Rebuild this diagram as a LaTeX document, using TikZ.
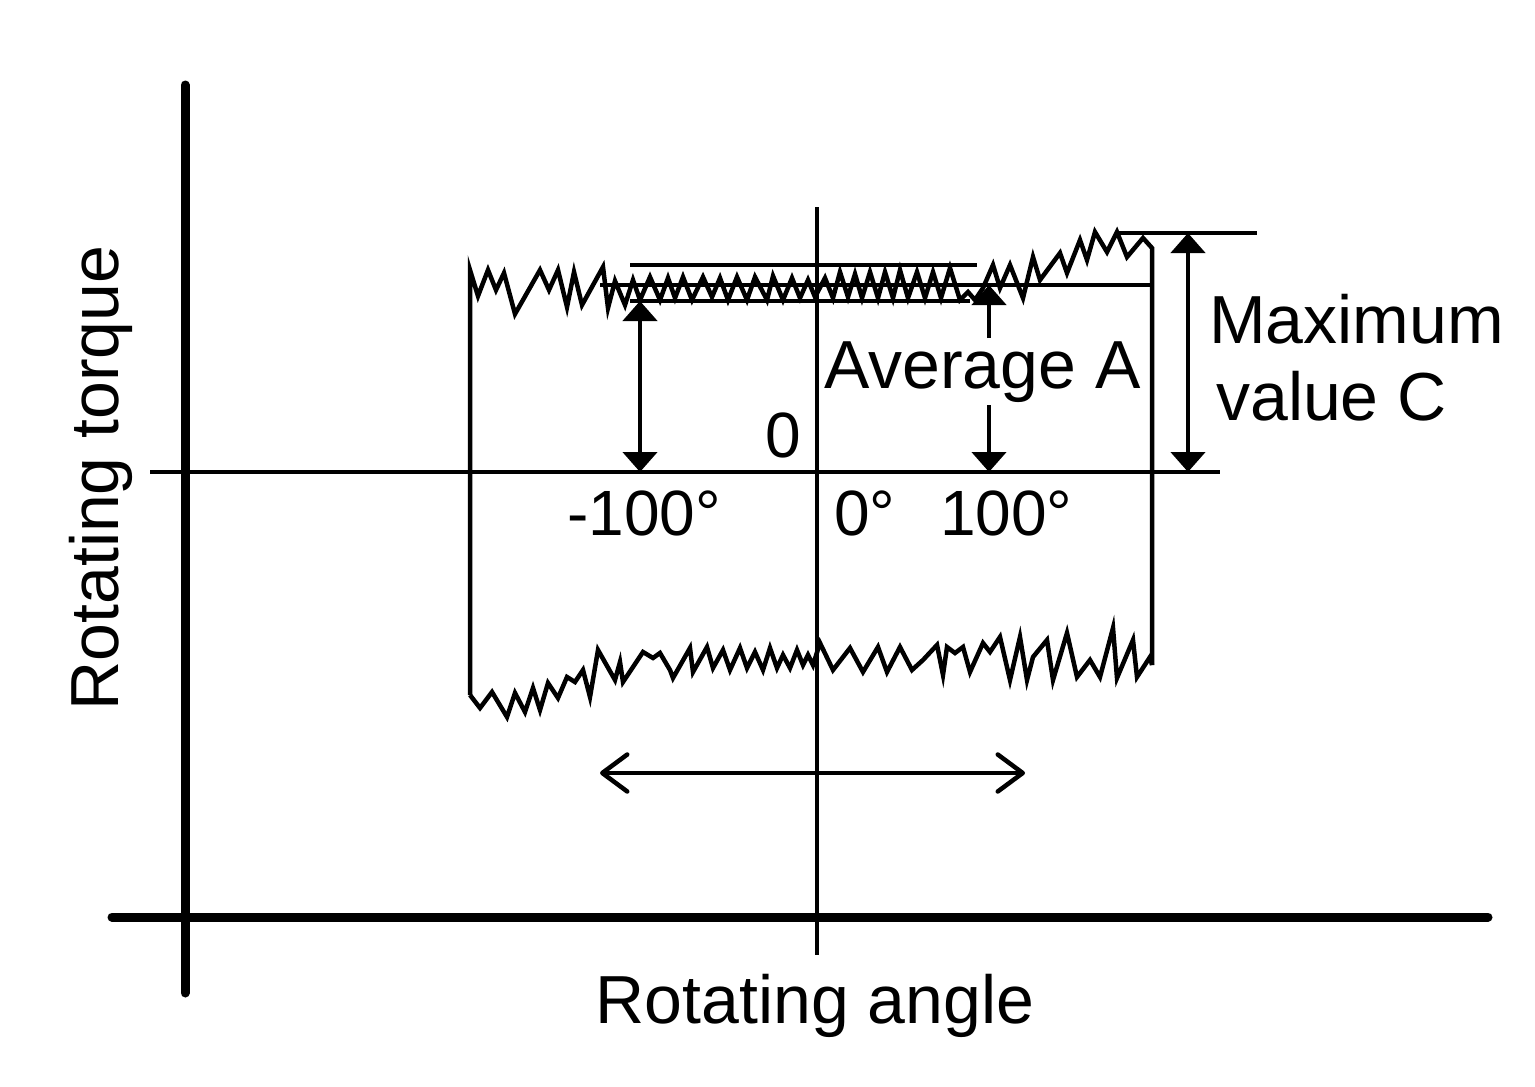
\documentclass[tikz,border=0pt]{standalone}
\usepackage{fontspec}
\setmainfont{Liberation Sans}
\usetikzlibrary{arrows.meta}
\tikzset{
  axisthick/.style={line width=9pt, line cap=round},
  thinline/.style={line width=4.5pt},
  trace/.style={line width=4.5pt, line join=miter},
  dimarrow/.style={line width=4.5pt, {Triangle[width=34pt,length=20pt]}-{Triangle[width=34pt,length=20pt]}},
  uparrow/.style={line width=4.5pt, -{Triangle[width=34pt,length=20pt]}},
  openarrow/.style={line width=4.5pt, {Straight Barb[length=25pt,width=37pt,round]}-{Straight Barb[length=25pt,width=37pt,round]}},
  lbl/.style={inner sep=0pt, font=\fontsize{68}{78}\selectfont},
  num/.style={inner sep=0pt, font=\fontsize{64}{70}\selectfont},
}
\begin{document}
\begin{tikzpicture}[x=1pt,y=-1pt]
\useasboundingbox (0,0) rectangle (1535,1087);
% main axes
\coordinate (Ytop) at (185,85);
\coordinate (Ybot) at (185,993);
\coordinate (Xl) at (112,917);
\coordinate (Xr) at (1488,917);
\draw[axisthick] (Ytop) -- (Ybot);
\draw[axisthick] (Xl) -- (Xr);
% inner axes
\coordinate (hl) at (150,472);
\coordinate (hr) at (1220,472);
\coordinate (vt) at (817,207);
\coordinate (vb) at (817,955);
\draw[thinline] (hl) -- (hr);
\draw[thinline] (vt) -- (vb);
% reference lines
\coordinate (l1a) at (630,265); \coordinate (l1b) at (977,265);
\coordinate (l2a) at (600,285); \coordinate (l2b) at (1152,285);
\coordinate (l3a) at (630,301); \coordinate (l3b) at (970,301);
\coordinate (l4a) at (1115,233); \coordinate (l4b) at (1257,233);
\draw[thinline] (l1a) -- (l1b);
\draw[thinline] (l2a) -- (l2b);
\draw[thinline] (l3a) -- (l3b);
\draw[thinline] (l4a) -- (l4b);
% upper trace with verticals
\draw[trace] (470,695) -- (470,270) -- (478,296) -- (488,270) -- (496,290) -- (504,273) -- (515,314) -- (540,270) -- (549,290) -- (558,270) -- (567,307) -- (574,272) -- (582,305) -- (603,267) -- (608,308) -- (615,281) -- (625,305) -- (633,280) -- (640,300) -- (650,277) -- (660,300) -- (668,278) -- (675,298) -- (683,277) -- (692,300) -- (703,277) -- (712,297) -- (720,278) -- (728,300) -- (737,277) -- (747,300) -- (755,277) -- (767,300) -- (773,276) -- (783,300) -- (792,278) -- (800,298) -- (808,280) -- (815,297) -- (825,278) -- (833,298) -- (840,272) -- (848,297) -- (855,274) -- (862,298) -- (870,272) -- (878,298) -- (885,272) -- (893,298) -- (900,270) -- (908,298) -- (917,272) -- (925,298) -- (933,272) -- (941,298) -- (950,268) -- (960,300) -- (968,292) -- (975,300) -- (983,288) -- (993,265) -- (1000,288) -- (1010,265) -- (1023,298) -- (1033,257) -- (1040,280) -- (1060,253) -- (1067,273) -- (1080,240) -- (1087,260) -- (1095,232) -- (1107,252) -- (1117,232) -- (1127,257) -- (1143,238) -- (1152,248) -- (1152,665);
% lower trace
\draw[trace] (470,695) -- (480,708) -- (492,692) -- (507,717) -- (515,693) -- (525,712) -- (533,688) -- (540,710) -- (548,683) -- (558,698) -- (567,677) -- (575,682) -- (583,670) -- (590,697) -- (598,650) -- (615,680) -- (620,662) -- (623,682) -- (643,652) -- (653,658) -- (660,653) -- (670,670) -- (673,678) -- (690,648) -- (693,672) -- (707,647) -- (713,668) -- (723,650) -- (730,670) -- (740,648) -- (747,668) -- (755,652) -- (763,670) -- (770,648) -- (777,668) -- (783,655) -- (790,668) -- (797,650) -- (803,665) -- (808,655) -- (813,665) -- (820,643) -- (833,670) -- (850,648) -- (863,672) -- (878,647) -- (887,672) -- (900,647) -- (912,670) -- (923,660) -- (937,645) -- (943,675) -- (947,647) -- (955,653) -- (963,647) -- (970,672) -- (983,643) -- (990,652) -- (1000,637) -- (1010,680) -- (1020,637) -- (1027,680) -- (1033,657) -- (1047,640) -- (1053,680) -- (1067,633) -- (1077,677) -- (1090,660) -- (1100,677) -- (1113,628) -- (1117,678) -- (1133,640) -- (1137,677) -- (1150,657) -- (1152,665);
% dimension arrows
\coordinate (a1t) at (640,301); \coordinate (a1b) at (640,472);
\draw[dimarrow] (a1t) -- (a1b);
\coordinate (a2t) at (989,285); \coordinate (a2m) at (989,338);
\draw[uparrow] (a2m) -- (a2t);
\coordinate (a3m) at (989,405); \coordinate (a3b) at (989,472);
\draw[uparrow] (a3m) -- (a3b);
\coordinate (a4t) at (1188,233); \coordinate (a4b) at (1188,472);
\draw[dimarrow] (a4t) -- (a4b);
\coordinate (a5l) at (600,773); \coordinate (a5r) at (1025,773);
\draw[openarrow] (a5l) -- (a5r);
% labels
\node[lbl, anchor=base west] (tmax) at (1209,343) {Maximum};
\node[lbl, anchor=base west] (tval) at (1216,420) {value C};
\node[lbl, anchor=base west] (tavg) at (824,388) {Average A};
\node[num, anchor=base west] (tzero) at (765,457) {0};
\node[num, anchor=base west] (tm100) at (567,535) {-100°};
\node[num, anchor=base west] (t0) at (834,535) {0°};
\node[num, anchor=base west] (t100) at (940,535) {100°};
\node[lbl, anchor=base] (tangle) at (815,1023) {Rotating angle};
\node[lbl, anchor=base, rotate=90] (ttorque) at (118,478) {Rotating torque};
\end{tikzpicture}
\end{document}
